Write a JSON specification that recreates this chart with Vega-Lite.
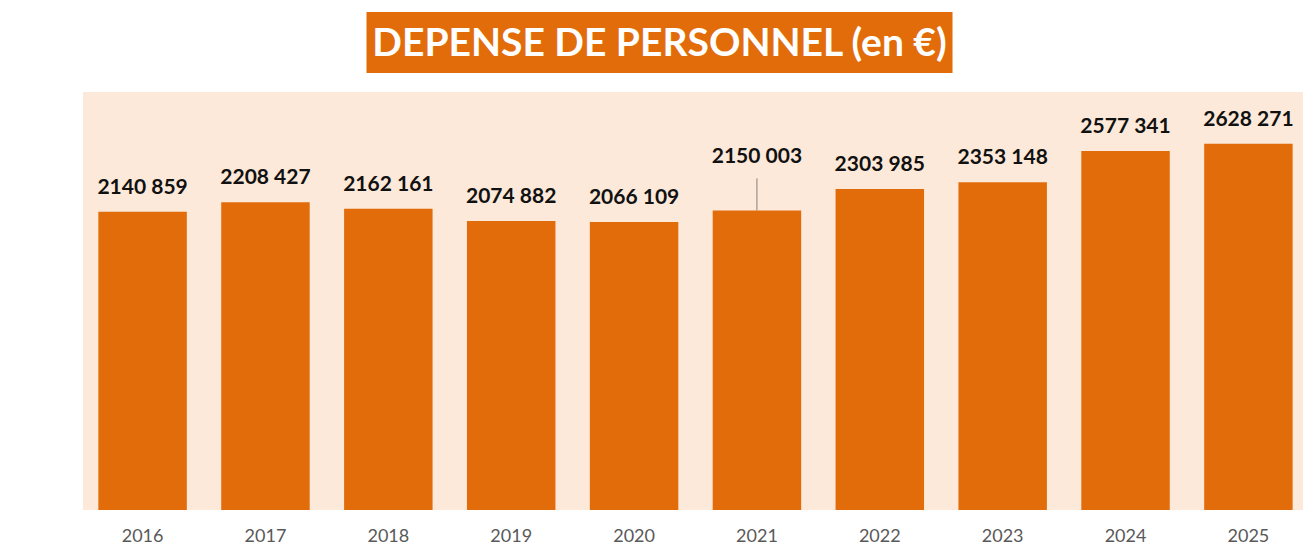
{
  "$schema": "https://vega.github.io/schema/vega-lite/v6.json",
  "padding": {"left": 83, "top": 12, "right": 0, "bottom": 0},
  "background": "#ffffff",
  "config": {
    "locale": {"number": {"decimal": ",", "thousands": " ", "grouping": [3, 4], "currency": ["", " €"]}},
    "view": {"stroke": null}
  },
  "center": true,
  "spacing": 19,
  "vconcat": [
    {
      "width": 586,
      "height": 61,
      "view": {"fill": "#e36c0a", "stroke": null},
      "data": {"values": [{"t": "DEPENSE DE PERSONNEL (en €)", "k": "a"}]},
      "mark": {"type": "text", "font": "Lato", "fontWeight": "bold", "fontSize": 39, "color": "#ffffff", "baseline": "middle", "align": "center", "dy": 1},
      "encoding": {
        "text": {"field": "t"},
        "y": {"field": "k", "type": "nominal", "title": "·", "axis": {"orient": "right", "labels": false, "ticks": false, "domain": false, "titleColor": "#ffffff", "titlePadding": 59, "titleFontSize": 13}}
      }
    },
    {
      "width": 1225,
      "height": 418,
      "view": {"fill": "#fde9d9", "stroke": null},
      "data": {"values": [
        {"year": "2016", "value": 2140859},
        {"year": "2017", "value": 2208427},
        {"year": "2018", "value": 2162161},
        {"year": "2019", "value": 2074882},
        {"year": "2020", "value": 2066109},
        {"year": "2021", "value": 2150003},
        {"year": "2022", "value": 2303985},
        {"year": "2023", "value": 2353148},
        {"year": "2024", "value": 2577341},
        {"year": "2025", "value": 2628271}
      ]},
      "encoding": {
        "x": {
          "field": "year", "type": "ordinal", "title": null,
          "scale": {"paddingInner": 0.28, "paddingOuter": 0.125},
          "axis": {"domain": false, "ticks": false, "labelAngle": 0, "labelColor": "#595959", "labelFontSize": 18, "labelFont": "Lato", "labelPadding": 17}
        },
        "y": {
          "field": "value", "type": "quantitative", "title": null,
          "scale": {"domain": [0, 3000000]},
          "axis": null
        }
      },
      "layer": [
        {"mark": {"type": "bar", "color": "#e36c0a"}},
        {
          "transform": [{"filter": "datum.year != '2021'"}],
          "mark": {"type": "text", "font": "Lato", "fontWeight": "bold", "fontSize": 21, "color": "#111111", "baseline": "middle", "dy": -24},
          "encoding": {"text": {"field": "value", "type": "quantitative", "format": ",d"}}
        },
        {
          "transform": [{"filter": "datum.year == '2021'"}],
          "mark": {"type": "text", "font": "Lato", "fontWeight": "bold", "fontSize": 21, "color": "#111111", "baseline": "middle", "dy": -53},
          "encoding": {"text": {"field": "value", "type": "quantitative", "format": ",d"}}
        },
        {
          "transform": [{"filter": "datum.year == '2021'"}],
          "mark": {"type": "rule", "color": "#7f7f7f", "strokeWidth": 1},
          "encoding": {"y2": {"datum": 2380000}}
        }
      ]
    }
  ]
}
